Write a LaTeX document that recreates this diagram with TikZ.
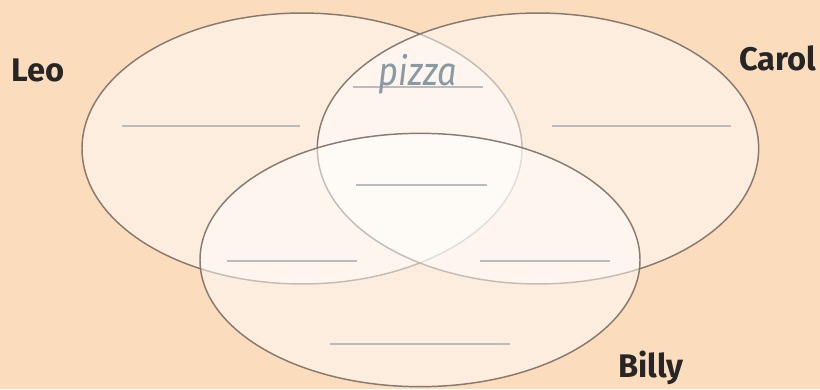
\documentclass[tikz,border=0pt]{standalone}
\usepackage{fontspec}
\setmainfont{Fira Sans}
\usepackage{tikz}
\usetikzlibrary{positioning}
\definecolor{vpeach}{HTML}{FBDCBD}
\definecolor{vedge}{HTML}{7D6E63}
\definecolor{vblank}{HTML}{B9BCBF}
\definecolor{vword}{HTML}{8A9AA4}

\begin{document}
\begin{tikzpicture}[
    x=0.75pt, y=-0.75pt,
    set/.style={draw=vedge, line width=1.1pt, fill=white, fill opacity=0.5, draw opacity=0.9},
    blank/.style={draw=vblank, line width=1.9pt},
    person/.style={font=\fontsize{24.5}{28}\selectfont\bfseries, text=black!85},
]
    \fill[vpeach] (0,0) rectangle (820,389);
    \useasboundingbox (0,0) rectangle (820,389);

    % Sets
    \draw[set] (302,148.5) ellipse [x radius=165pt, y radius=101.6pt];
    \draw[set] (538,148.5) ellipse [x radius=165.5pt, y radius=101.6pt];
    \draw[set] (420,260) ellipse [x radius=165pt, y radius=95pt];

    % Names
    \node[person] (leo) at (38,70) {Leo};
    \node[person] (carol) at (778,58) {Carol};
    \node[person] (billy) at (651,368) {Billy};

    % Blanks
    \draw[blank] (122,126) -- (300,126);
    \draw[blank] (552,126) -- (731,126);
    \draw[blank] (353,87) -- (483,87);
    \draw[blank] (356,185) -- (487,185);
    \draw[blank] (227,261) -- (357,261);
    \draw[blank] (480,261) -- (610,261);
    \draw[blank] (330,344) -- (510,344);

    \node[font=\fontsize{30}{34}\selectfont\itshape, text=vword, anchor=base] (pizza) at (418,85) {\scalebox{0.86}[1]{pizza}};
\end{tikzpicture}
\end{document}
